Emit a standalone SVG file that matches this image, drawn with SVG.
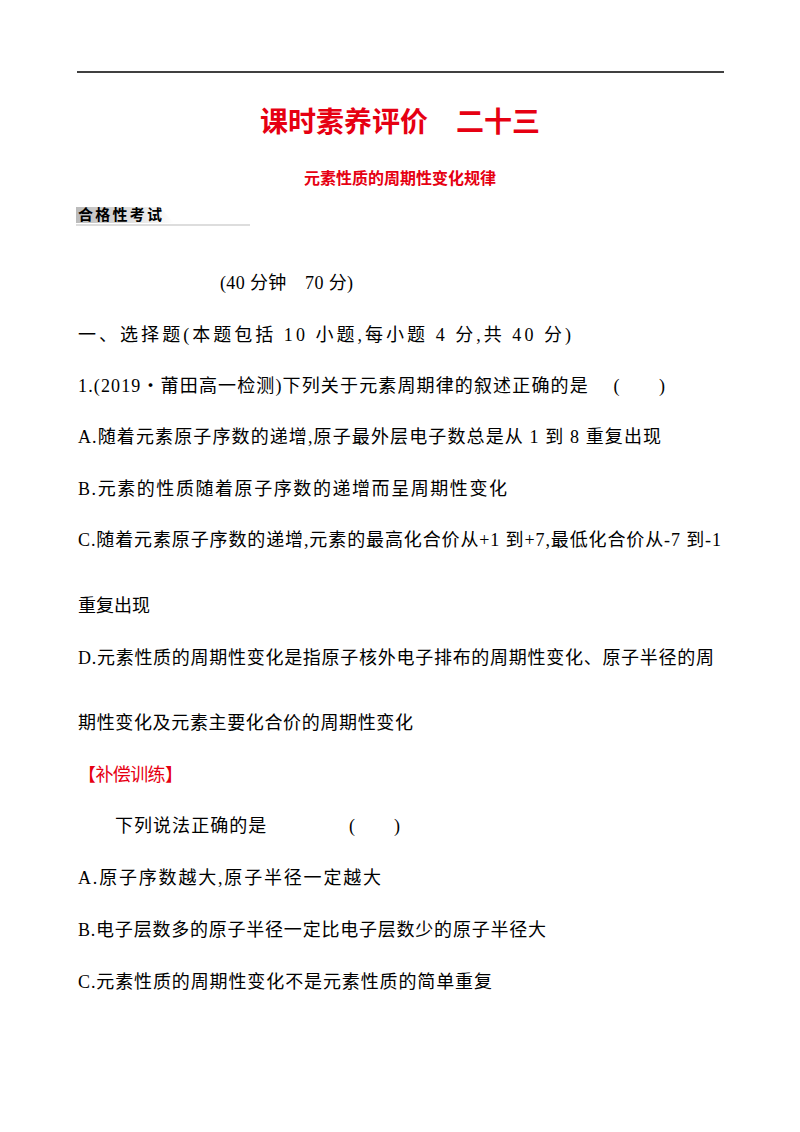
<svg xmlns="http://www.w3.org/2000/svg" width="800" height="1132" viewBox="0 0 800 1132">
<defs><linearGradient id="g" x1="0" x2="1"><stop offset="0" stop-color="#bbb"/><stop offset="1" stop-color="#fff"/></linearGradient></defs>
<style>
.t{font-family:"Liberation Serif","Noto Sans CJK SC",serif;font-size:18px;fill:#000}
.r{fill:#e60012;font-family:"Noto Sans CJK SC",sans-serif;font-weight:bold}
</style>
<rect width="800" height="1132" fill="#fff"/>
<line x1="77" y1="72" x2="724" y2="72" stroke="#000" stroke-width="1.5"/>
<text class="r" x="400" y="132" font-size="28" text-anchor="middle">课时素养评价　二十三</text>
<text class="r" x="400" y="184" font-size="16" text-anchor="middle">元素性质的周期性变化规律</text>
<polygon points="76,207 160,207 174,223 76,223" fill="url(#g)"/>
<line x1="76" y1="225" x2="250" y2="225" stroke="#bbb"/>
<text x="78" y="220" font-family="Noto Sans CJK SC,sans-serif" font-weight="bold" font-size="15" textLength="84">合格性考试</text>
<text class="t" x="220" y="289" textLength="133">(40 分钟　70 分)</text>
<text class="t" x="78" y="341" textLength="493">一、选择题(本题包括 10 小题,每小题 4 分,共 40 分)</text>
<text class="t" x="78" y="392" textLength="587">1.(2019・莆田高一检测)下列关于元素周期律的叙述正确的是　 (　　)</text>
<text class="t" x="78" y="443" textLength="583">A.随着元素原子序数的递增,原子最外层电子数总是从 1 到 8 重复出现</text>
<text class="t" x="78" y="495" textLength="429">B.元素的性质随着原子序数的递增而呈周期性变化</text>
<text class="t" x="78" y="546" textLength="643">C.随着元素原子序数的递增,元素的最高化合价从+1 到+7,最低化合价从-7 到-1</text>
<text class="t" x="78" y="612" textLength="72">重复出现</text>
<text class="t" x="78" y="664" textLength="636">D.元素性质的周期性变化是指原子核外电子排布的周期性变化、原子半径的周</text>
<text class="t" x="78" y="729" textLength="335">期性变化及元素主要化合价的周期性变化</text>
<text class="t" x="78" y="781" style="fill:#e60012" textLength="105">【补偿训练】</text>
<text class="t" x="115" y="832" textLength="285">下列说法正确的是　　　　 (　　)</text>
<text class="t" x="78" y="884" textLength="303">A.原子序数越大,原子半径一定越大</text>
<text class="t" x="78" y="936" textLength="468">B.电子层数多的原子半径一定比电子层数少的原子半径大</text>
<text class="t" x="78" y="988" textLength="414">C.元素性质的周期性变化不是元素性质的简单重复</text>
</svg>
